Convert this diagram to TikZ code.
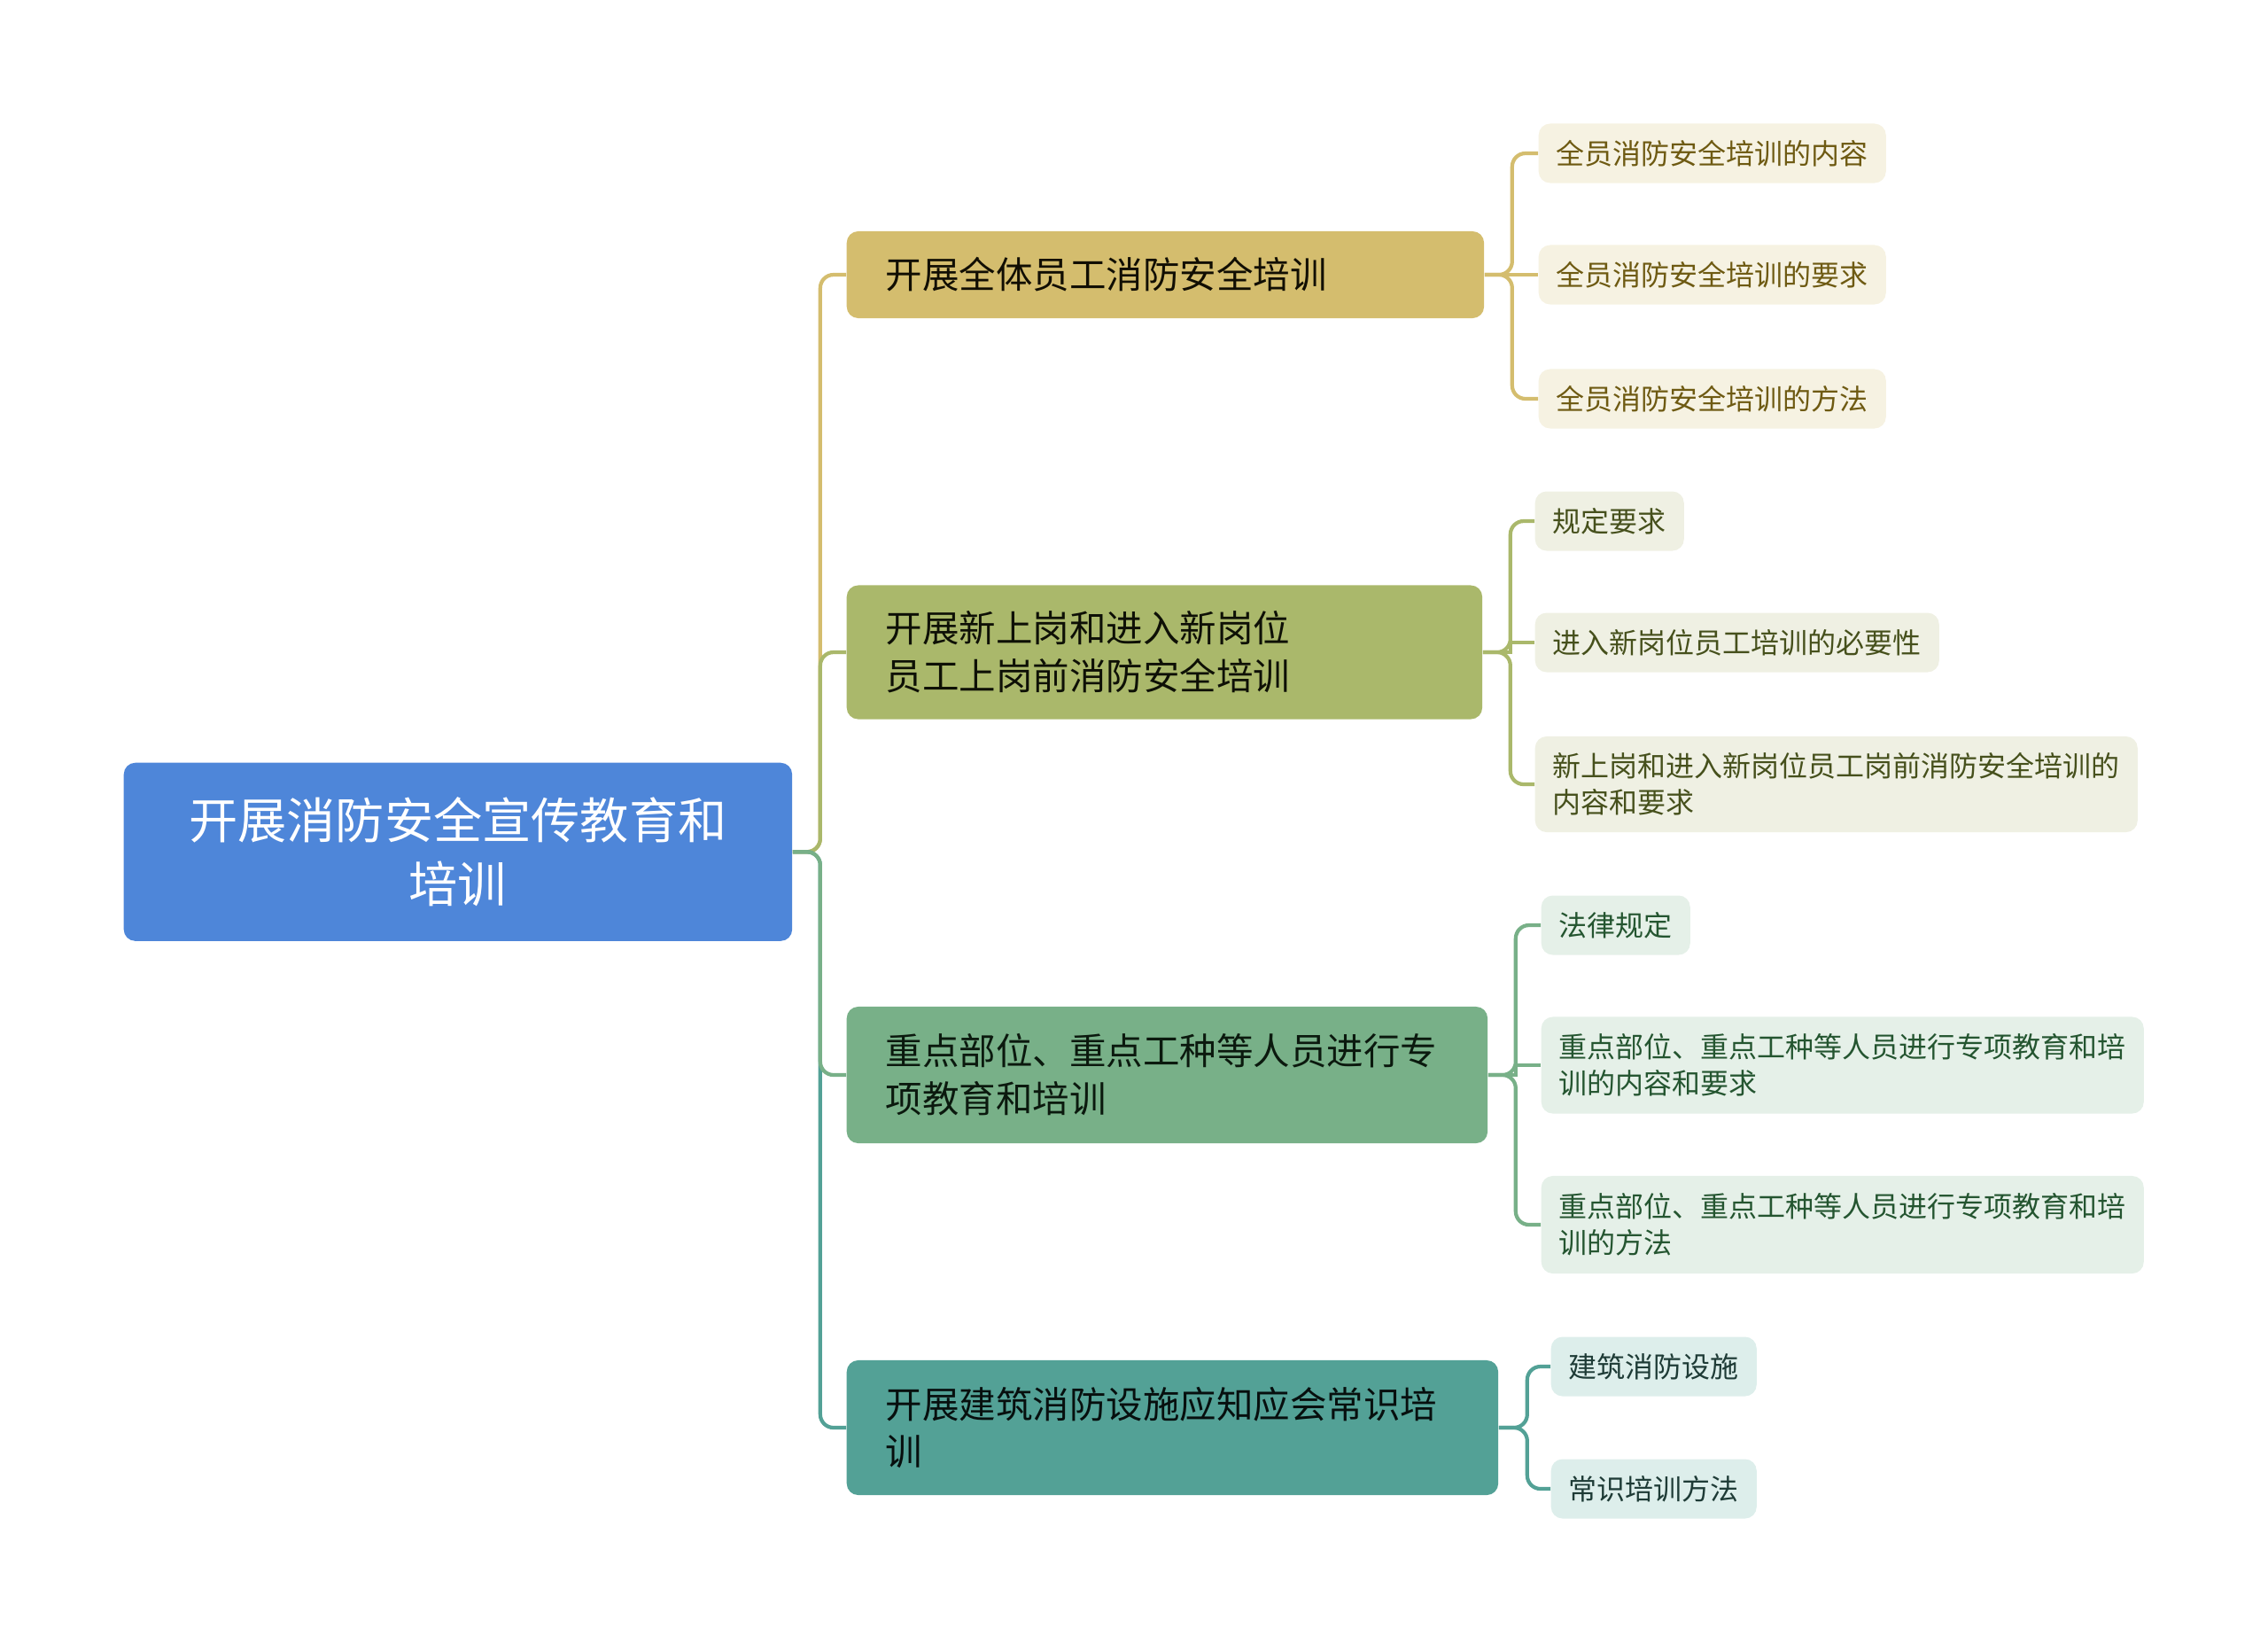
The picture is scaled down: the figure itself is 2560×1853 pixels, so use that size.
\documentclass[tikz,border=0pt]{standalone}
\usepackage{fontspec}
\setmainfont{Noto Sans CJK SC}

\definecolor{rootblue}{HTML}{4E86D9}
\definecolor{gold}{HTML}{D4BD6E}
\definecolor{olive}{HTML}{AAB86B}
\definecolor{sage}{HTML}{78B088}
\definecolor{teal}{HTML}{53A196}
\definecolor{goldlight}{HTML}{F6F2E2}
\definecolor{olivelight}{HTML}{EFF0E3}
\definecolor{sagelight}{HTML}{E5F0E8}
\definecolor{teallight}{HTML}{DDEEEB}
\definecolor{golddark}{HTML}{6E5A12}
\definecolor{olivedark}{HTML}{46501C}
\definecolor{sagedark}{HTML}{245530}
\definecolor{tealdark}{HTML}{1E3B36}

\tikzset{
    box/.style={rounded corners=0.13cm, inner ysep=0pt, anchor=west, align=left},
    rootbox/.style={box, fill=rootblue, text=white, align=center, anchor=north west,
        minimum width=7.54cm, minimum height=2.01cm,
        font=\fontsize{15.7pt}{20.4pt}\selectfont},
    mainbox/.style={box, fill=#1, inner xsep=0.44cm, minimum height=0.98cm,
        font=\fontsize{11.8pt}{15.3pt}\selectfont},
    subbox/.style={box, inner xsep=0.2cm, minimum height=0.67cm,
        font=\fontsize{9.1pt}{11.6pt}\selectfont},
    link/.style={line width=1.2pt, rounded corners=0.15cm},
}

\begin{document}
\begin{tikzpicture}[x=0.01cm, y=-0.01cm]
    \useasboundingbox (0,0) rectangle (2560,1853);

    % root
    \node[rootbox] (root) at (139,860) {开展消防安全宣传教育和\\培训};

    % first level
    \node[mainbox=gold, text=black!85!golddark, text width=6.31cm] (a) at (955,310) {开展全体员工消防安全培训};
    \node[mainbox=olive, text=black!80!olivedark, text width=6.29cm, minimum height=1.51cm] (b) at (955,736) {开展新上岗和进入新岗位\\员工上岗前消防安全培训};
    \node[mainbox=sage, text=black!70!sagedark, text width=6.35cm, minimum height=1.54cm] (c) at (955,1213) {重点部位、重点工种等人员进行专\\项教育和培训};
    \node[mainbox=teal, text=black!75!tealdark, text width=6.47cm, minimum height=1.52cm] (d) at (955,1611) {开展建筑消防设施应知应会常识培\\训};

    % second level
    \node[subbox, fill=goldlight, text=golddark] (a1) at (1736,173) {全员消防安全培训的内容};
    \node[subbox, fill=goldlight, text=golddark] (a2) at (1736,310) {全员消防安全培训的要求};
    \node[subbox, fill=goldlight, text=golddark] (a3) at (1736,450) {全员消防安全培训的方法};

    \node[subbox, fill=olivelight, text=olivedark] (b1) at (1732,588) {规定要求};
    \node[subbox, fill=olivelight, text=olivedark] (b2) at (1732,725) {进入新岗位员工培训的必要性};
    \node[subbox, fill=olivelight, text=olivedark, minimum height=1.08cm] (b3) at (1732,885) {新上岗和进入新岗位员工岗前消防安全培训的\\内容和要求};

    \node[subbox, fill=sagelight, text=sagedark] (c1) at (1739,1044) {法律规定};
    \node[subbox, fill=sagelight, text=sagedark, minimum height=1.09cm] (c2) at (1739,1202) {重点部位、重点工种等人员进行专项教育和培\\训的内容和要求};
    \node[subbox, fill=sagelight, text=sagedark, minimum height=1.10cm] (c3) at (1739,1382) {重点部位、重点工种等人员进行专项教育和培\\训的方法};

    \node[subbox, fill=teallight, text=tealdark] (d1) at (1750,1542) {建筑消防设施};
    \node[subbox, fill=teallight, text=tealdark] (d2) at (1750,1680) {常识培训方法};

    % root to first level
    \draw[link, gold] (root.east) -- ++(31,0) |- (a.west);
    \draw[link, olive] (root.east) -- ++(31,0) |- (b.west);
    \draw[link, teal] (root.east) -- ++(31,0) |- (d.west);
    \draw[link, sage] (root.east) -- ++(31,0) |- (c.west);

    % first level to second level
    \foreach \s in {a1,a3} \draw[link, gold] (a.east) -- ++(31,0) |- (\s.west);
    \draw[link, gold] (a.east) -- (a2.west);
    \foreach \s in {b1,b3} \draw[link, olive] (b.east) -- ++(31,0) |- (\s.west);
    \draw[line width=1.2pt, olive] (b.east) -- ++(31,0) |- (b2.west);
    \foreach \s in {c1,c3} \draw[link, sage] (c.east) -- ++(31,0) |- (\s.west);
    \draw[line width=1.2pt, sage] (c.east) -- ++(31,0) |- (c2.west);
    \foreach \s in {d1,d2} \draw[link, teal] (d.east) -- ++(32,0) |- (\s.west);
\end{tikzpicture}
\end{document}
